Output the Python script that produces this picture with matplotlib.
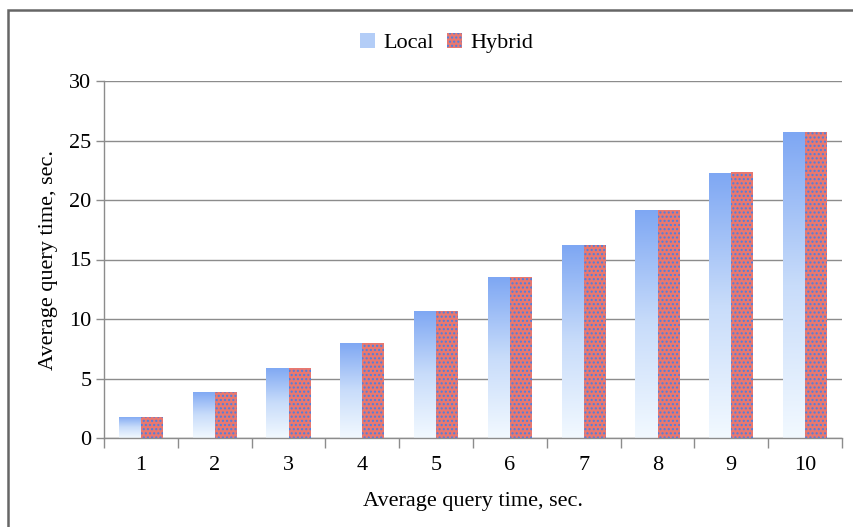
import numpy as np
import matplotlib
matplotlib.use("Agg")
import matplotlib.pyplot as plt
from matplotlib.patches import Rectangle, Patch
from matplotlib.colors import LinearSegmentedColormap

categories = ["1", "2", "3", "4", "5", "6", "7", "8", "9", "10"]
local_vals = [1.8, 3.9, 5.9, 8.0, 10.7, 13.5, 16.2, 19.2, 22.3, 25.7]
hybrid_vals = [1.8, 3.9, 5.9, 8.0, 10.7, 13.5, 16.2, 19.2, 22.35, 25.7]
series_names = ["Local", "Hybrid"]
y_ticks = [0, 5, 10, 15, 20, 25, 30]
x_label = "Average query time, sec."
y_label = "Average query time, sec."

plt.rcParams['font.family'] = ['Liberation Serif', 'DejaVu Serif']
plt.rcParams['hatch.linewidth'] = 1.0

fs = 16

fig = plt.figure(figsize=(8.54, 5.27), dpi=100)
ax = fig.add_axes([104/854, 1-438/527, (842-104)/854, (438-81)/527])

x = np.arange(len(categories))
w = 0.30
grid_c = "#8c8c8c"

ax.set_ylim(0, 30)
ax.set_xlim(-0.5, len(categories) - 0.5)
ax.set_yticks(y_ticks)
ax.yaxis.grid(True, color=grid_c, lw=1.0)
ax.set_axisbelow(True)

cmap = LinearSegmentedColormap.from_list("lg", ["#f2f9ff", "#c8dcfa", "#7ea7f3"])
grad = np.linspace(0, 1, 256).reshape(-1, 1)

lb = ax.bar(x - w/2, local_vals, width=w, color="none", linewidth=0, zorder=2)
for p in lb:
    x0, y0 = p.get_x(), p.get_y()
    im = ax.imshow(grad, cmap=cmap, origin="lower", aspect="auto",
                   extent=(x0, x0 + p.get_width(), y0, y0 + p.get_height()), zorder=2)
    im.set_clip_path(p)

hb = ax.bar(x + w/2, hybrid_vals, width=w, facecolor="#e9786f", edgecolor="#4a7fe3",
            linewidth=0, hatch="....", zorder=3)

ax.set_xlim(-0.5, len(categories) - 0.5)
ax.set_ylim(0, 30)

ax.set_xticks(np.arange(-0.5, len(categories)), labels=[])
ax.set_xticks(x, labels=categories, minor=True)
ax.tick_params(axis="x", which="major", length=7, color=grid_c, width=1)
ax.tick_params(axis="x", which="minor", length=0, pad=13, labelsize=fs)
ax.tick_params(axis="y", length=6, color=grid_c, width=1, labelsize=fs, pad=3)

for s in ["top", "right"]:
    ax.spines[s].set_visible(False)
for s in ["left", "bottom"]:
    ax.spines[s].set_color(grid_c)
    ax.spines[s].set_linewidth(1.0)

ax.set_xlabel(x_label, fontsize=fs, labelpad=12)
ax.set_ylabel(y_label, fontsize=fs, labelpad=8)

handles = [Patch(facecolor="#b3cdf7", edgecolor="none"),
           Patch(facecolor="#e9786f", edgecolor="#4a7fe3", hatch="....", linewidth=0)]
fig.legend(handles, series_names, loc="center", bbox_to_anchor=(447/854, 1-43/527),
           ncol=2, frameon=False, fontsize=fs, handlelength=0.65, handleheight=0.65,
           handletextpad=0.4, columnspacing=0.6)

fig.patches.append(Rectangle((8/854, -0.1), 1.2, 1.1 - 10/527, transform=fig.transFigure,
                             fill=False, edgecolor="#666666", linewidth=1.8))

fig.savefig("out.png", dpi=100)
